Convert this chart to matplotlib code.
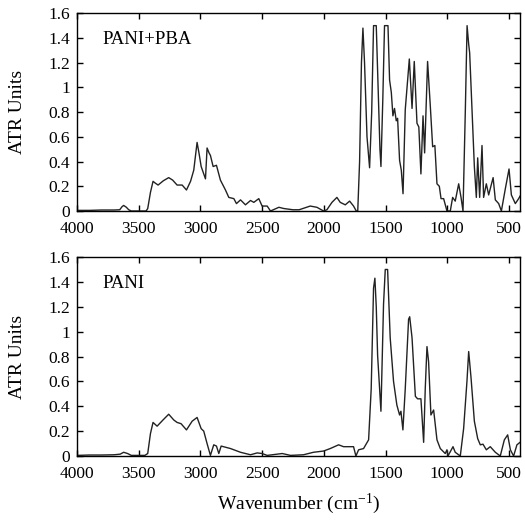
import matplotlib
matplotlib.use("Agg")
import matplotlib.pyplot as plt

plt.rcParams['font.family'] = ['Liberation Serif', 'DejaVu Serif']
plt.rcParams['mathtext.fontset'] = 'custom'
plt.rcParams['mathtext.rm'] = 'Liberation Serif'
plt.rcParams['mathtext.default'] = 'regular'

# PANI+PBA spectrum
wn_pba = [4000, 3900, 3800, 3700, 3654, 3635, 3622, 3600, 3581, 3560, 3440, 3427, 3405, 3384,
          3365, 3343, 3300, 3257, 3225, 3189, 3148, 3113, 3080, 3054, 3027, 3010, 2994, 2959,
          2946, 2930, 2919, 2897, 2870, 2838, 2797, 2770, 2729, 2708, 2675, 2635, 2594, 2567,
          2527, 2500, 2459, 2432, 2364, 2324, 2250, 2200, 2110, 2056, 2002, 1975, 1934, 1894,
          1867, 1826, 1791, 1759, 1737, 1725, 1710, 1695, 1683, 1670, 1650, 1629, 1612, 1597,
          1575, 1560, 1545, 1537, 1522, 1508, 1480, 1467, 1453, 1440, 1427, 1413, 1402, 1386,
          1372, 1358, 1340, 1307, 1285, 1267, 1245, 1230, 1213, 1196, 1183, 1159, 1137, 1118,
          1100, 1083, 1064, 1050, 1029, 1002, 975, 956, 935, 907, 888, 872, 853, 839, 826, 818,
          799, 780, 764, 753, 737, 718, 705, 683, 664, 628, 610, 583, 561, 529, 499, 480, 448,
          421, 410]
ab_pba = [0.005, 0.005, 0.008, 0.008, 0.01, 0.035, 0.045, 0.03, 0.01, 0.0, 0.0, 0.02, 0.15, 0.24,
          0.225, 0.21, 0.245, 0.27, 0.25, 0.21, 0.21, 0.17, 0.24, 0.33, 0.555, 0.46, 0.36, 0.26,
          0.51, 0.47, 0.45, 0.36, 0.37, 0.25, 0.17, 0.11, 0.10, 0.06, 0.09, 0.05, 0.085, 0.07,
          0.10, 0.04, 0.04, 0.0, 0.03, 0.02, 0.01, 0.01, 0.04, 0.03, 0.0, 0.01, 0.07, 0.11,
          0.07, 0.05, 0.08, 0.04, 0.0, 0.0, 0.4, 1.2, 1.48, 1.2, 0.6, 0.35, 0.8, 1.5,
          1.5, 1.0, 0.5, 0.36, 0.9, 1.5, 1.5, 1.06, 0.96, 0.77, 0.83, 0.73, 0.75, 0.41,
          0.33, 0.14, 0.82, 1.23, 0.83, 1.21, 0.71, 0.68, 0.30, 0.77, 0.47, 1.21, 0.85, 0.52,
          0.53, 0.22, 0.20, 0.10, 0.10, 0.0, 0.0, 0.11, 0.08, 0.22, 0.11, 0.0, 0.82, 1.5, 1.35, 1.28,
          0.82, 0.36, 0.11, 0.43, 0.11, 0.53, 0.11, 0.22, 0.13, 0.27, 0.09, 0.06, 0.0, 0.18, 0.34, 0.13, 0.06,
          0.10, 0.12]

# PANI spectrum
wn_pani = [4000, 3900, 3800, 3700, 3650, 3622, 3590, 3560, 3450, 3427, 3405, 3384, 3351, 3303,
           3257, 3216, 3189, 3157, 3113, 3067, 3027, 2994, 2973, 2946, 2919, 2892, 2870, 2851,
           2832, 2756, 2675, 2594, 2540, 2500, 2459, 2337, 2270, 2165, 2084, 2002, 1948, 1880,
           1840, 1759, 1740, 1718, 1678, 1637, 1616, 1597, 1586, 1575, 1564, 1537, 1516, 1502,
           1483, 1462, 1435, 1408, 1386, 1375, 1359, 1340, 1313, 1304, 1285, 1258, 1240, 1213,
           1191, 1178, 1164, 1151, 1132, 1110, 1083, 1056, 1016, 1002, 994, 953, 935, 894, 867,
           840, 826, 807, 780, 753, 732, 710, 683, 651, 610, 570, 537, 510, 488, 462, 435, 410]
ab_pani = [0.005, 0.008, 0.008, 0.01, 0.015, 0.03, 0.02, 0.005, 0.005, 0.02, 0.18, 0.27, 0.24, 0.29,
           0.336, 0.29, 0.27, 0.26, 0.21, 0.28, 0.31, 0.22, 0.20, 0.10, 0.005, 0.09, 0.08, 0.02,
           0.08, 0.06, 0.03, 0.01, 0.025, 0.02, 0.005, 0.02, 0.005, 0.01, 0.03, 0.04, 0.06, 0.09,
           0.075, 0.075, 0.0, 0.05, 0.06, 0.13, 0.54, 1.35, 1.43, 1.2, 0.81, 0.36, 1.22, 1.5,
           1.5, 0.95, 0.60, 0.41, 0.33, 0.36, 0.21, 0.54, 1.10, 1.12, 0.95, 0.48, 0.46, 0.46,
           0.11, 0.54, 0.88, 0.76, 0.33, 0.37, 0.13, 0.06, 0.02, 0.05, 0.0, 0.075, 0.03, 0.0, 0.22,
           0.60, 0.84, 0.63, 0.28, 0.14, 0.09, 0.095, 0.05, 0.075, 0.03, 0.0, 0.13, 0.17, 0.05, 0.0, 0.09, 0.11]

x_ticks = [4000, 3500, 3000, 2500, 2000, 1500, 1000, 500]
y_ticks = [0, 0.2, 0.4, 0.6, 0.8, 1.0, 1.2, 1.4, 1.6]
y_labels = ['0', '0.2', '0.4', '0.6', '0.8', '1', '1.2', '1.4', '1.6']

fig = plt.figure(figsize=(5.25, 5.25), dpi=100)
ax1 = fig.add_axes([0.1467, 0.5981, 0.8438, 0.3766])
ax2 = fig.add_axes([0.1467, 0.1314, 0.8438, 0.3790])

for ax, wn, ab, label in [(ax1, wn_pba, ab_pba, 'PANI+PBA'), (ax2, wn_pani, ab_pani, 'PANI')]:
    ax.plot(wn, ab, color='#222222', lw=1.0)
    ax.set_xlim(4000, 410)
    ax.set_ylim(0, 1.6)
    ax.set_xticks(x_ticks)
    ax.set_yticks(y_ticks)
    ax.set_yticklabels(y_labels, va='center_baseline')
    ax.tick_params(direction='in', top=True, right=True, length=4, width=1,
                   labelsize=12.5)
    ax.tick_params(axis='x', pad=7)
    ax.tick_params(axis='y', pad=5)
    for s in ax.spines.values():
        s.set_linewidth(1)
    ax.set_ylabel('ATR Units', fontsize=14)
    ax.yaxis.set_label_coords(-0.115, 0.5)
    ax.text(3790, 1.39, label, fontsize=13.5, va='center', ha='left')

ax2.set_xlabel('Wavenumber (cm$^{-1}$)', fontsize=14, labelpad=7)

fig.savefig('out.png', dpi=100)
